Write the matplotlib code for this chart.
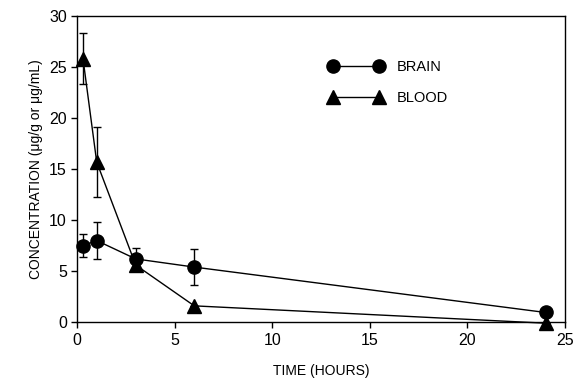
import matplotlib.pyplot as plt

hours_brain = [0.3, 1, 3, 6, 24]
brain = [7.5, 8.0, 6.2, 5.4, 0.95]
brain_err = [1.1, 1.8, 1.1, 1.8, 0.0]

hours_blood = [0.3, 1, 3, 6, 24]
blood = [25.8, 15.7, 5.6, 1.6, -0.1]
blood_err = [2.5, 3.4, 0.5, 0.0, 0.0]

plt.rcParams['font.family'] = ['Liberation Sans', 'DejaVu Sans']

fig, ax = plt.subplots(figsize=(5.76, 3.84), dpi=100)
fig.subplots_adjust(left=0.134, right=0.981, top=0.958, bottom=0.161)

ax.errorbar(hours_brain, brain, yerr=brain_err, fmt='-o', color='black',
            ms=9.5, lw=1.0, elinewidth=1.0, capsize=3, capthick=1.0,
            label='BRAIN', clip_on=False, zorder=3)
ax.errorbar(hours_blood, blood, yerr=blood_err, fmt='-^', color='black',
            ms=10, lw=1.0, elinewidth=1.0, capsize=3, capthick=1.0,
            label='BLOOD', clip_on=False, zorder=3)

ax.set_xlim(0, 25)
ax.set_ylim(0, 30)
ax.set_xticks([0, 5, 10, 15, 20, 25])
ax.set_yticks([0, 5, 10, 15, 20, 25, 30])
ax.tick_params(direction='out', length=4, width=1, labelsize=11.5)
for s in ax.spines.values():
    s.set_linewidth(1.0)

ax.set_xlabel('TIME (HOURS)', fontsize=10, labelpad=12)
ax.set_ylabel('CONCENTRATION (μg/g or μg/mL)', fontsize=10, labelpad=4)

handles, labels = ax.get_legend_handles_labels()
handles = [h[0] for h in handles]
ax.legend(handles, labels, numpoints=2, frameon=False, fontsize=10.5,
          loc='upper left', bbox_to_anchor=(0.488, 0.9), handlelength=3.8,
          labelspacing=1.2, handletextpad=0.9)

plt.savefig('out.png')
